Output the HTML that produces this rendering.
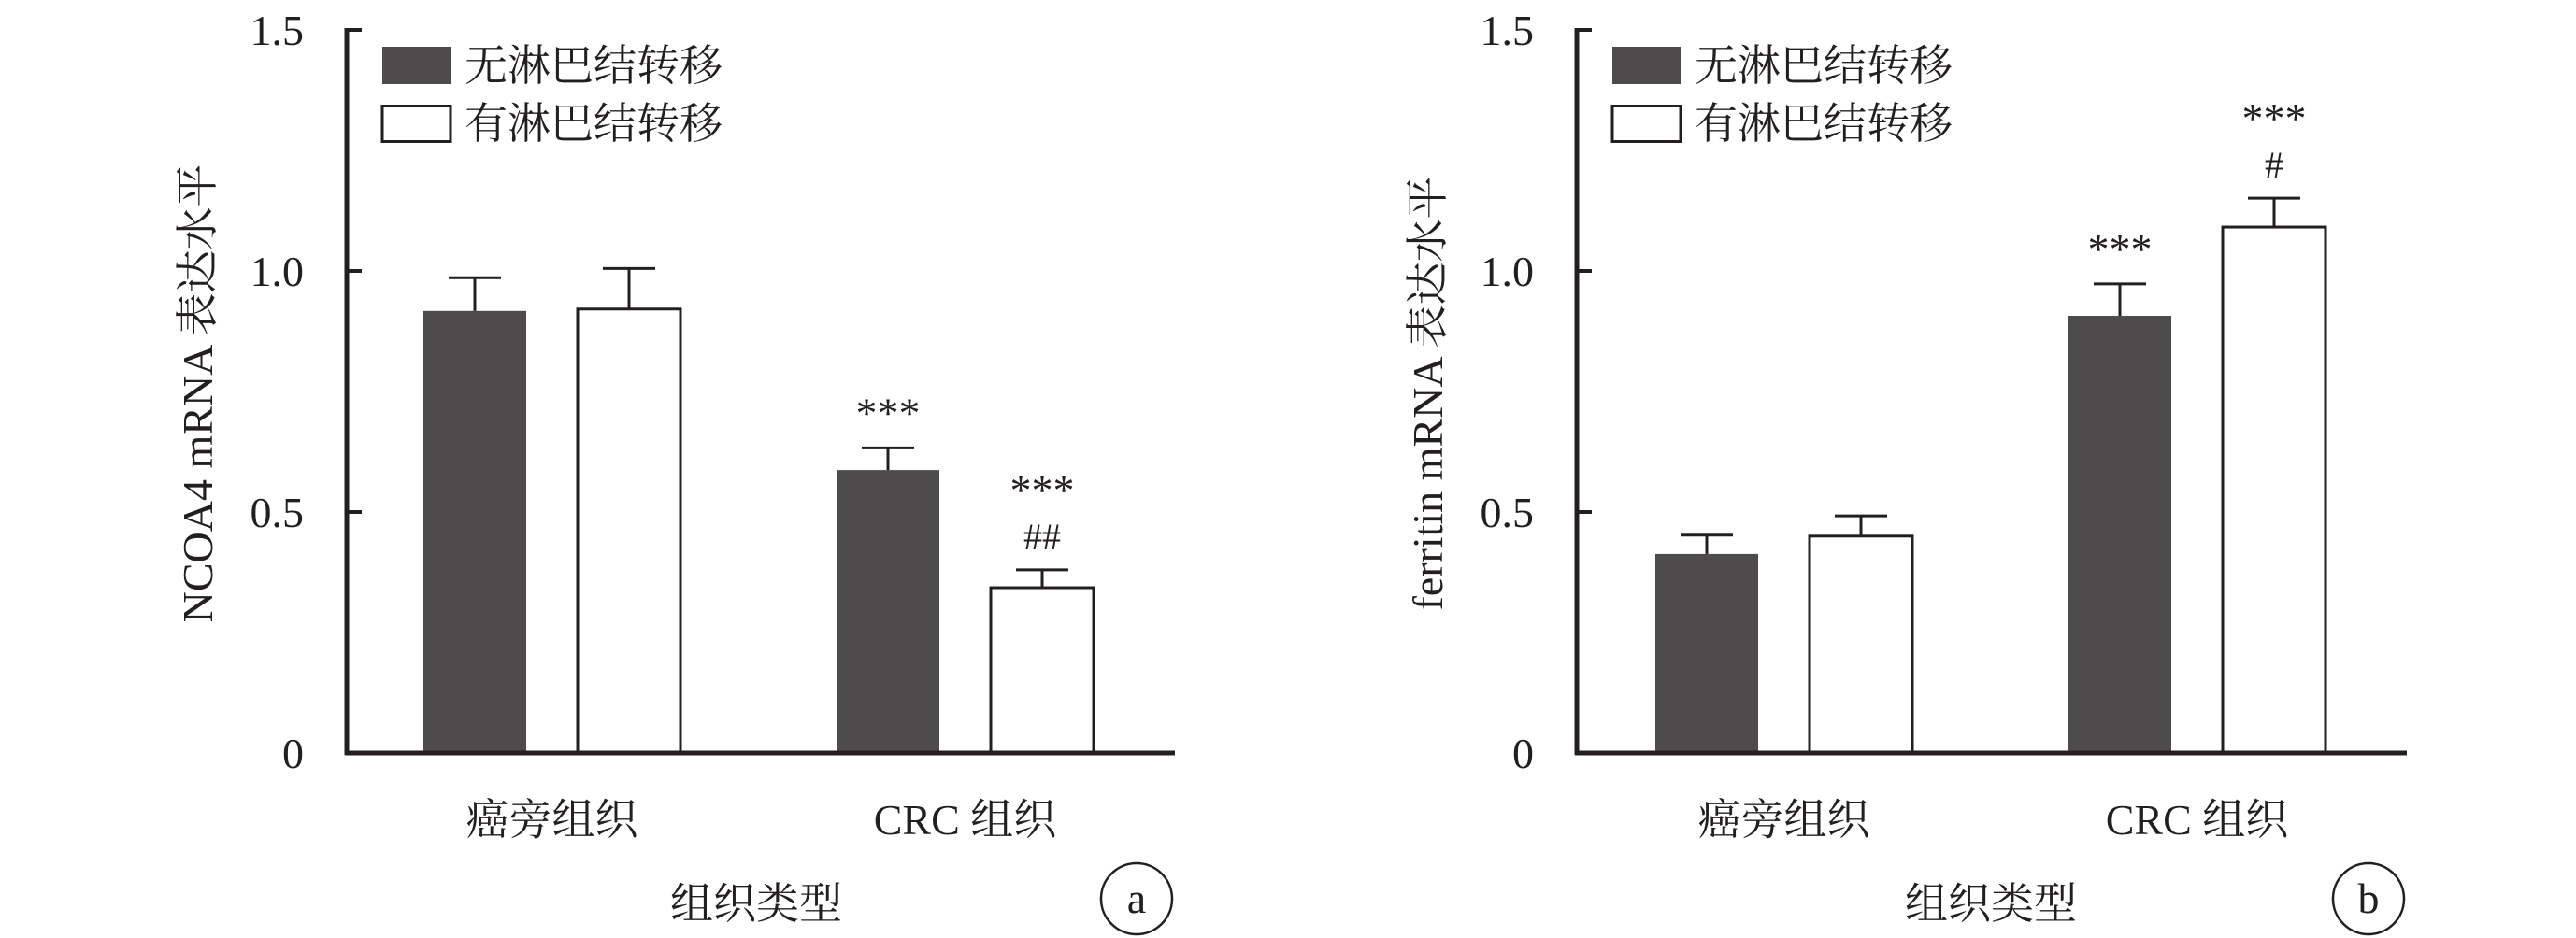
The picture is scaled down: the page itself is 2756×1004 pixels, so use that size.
<!DOCTYPE html>
<html><head><meta charset="utf-8">
<style>
html,body{margin:0;padding:0;background:#fff;}
svg{display:block;}
text{font-family:"Liberation Serif","Noto Serif CJK SC",serif;fill:#231f20;}
</style></head>
<body>
<svg id="chart" width="2756" height="1004" viewBox="0 0 2756 1004" xmlns="http://www.w3.org/2000/svg"></svg>
<script>
const categories = ["癌旁组织", "CRC 组织"];
const seriesNames = ["无淋巴结转移", "有淋巴结转移"];
const ncoaNoMeta = [0.917, 0.587];
const ncoaNoMetaErr = [0.069, 0.046];
const ncoaMeta = [0.921, 0.343];
const ncoaMetaErr = [0.084, 0.037];
const ferNoMeta = [0.413, 0.907];
const ferNoMetaErr = [0.039, 0.066];
const ferMeta = [0.450, 1.091];
const ferMetaErr = [0.042, 0.060];
const yTicks = [0, 0.5, 1.0, 1.5];
const yTickLabels = ["0", "0.5", "1.0", "1.5"];
const ncoaNoMetaMarks = ["", "***"];
const ncoaMetaMarks = [["",""], ["***","##"]];
const ferNoMetaMarks = ["", "***"];
const ferMetaMarks = [["",""], ["***","#"]];

const svg = document.getElementById('chart');
const NS = 'http://www.w3.org/2000/svg';
function mk(tag, attrs, parent, txt){
  const e = document.createElementNS(NS, tag);
  for (const k in attrs) e.setAttribute(k, attrs[k]);
  if (txt !== undefined) e.textContent = txt;
  (parent || svg).appendChild(e);
  return e;
}

function panel(opt){
  const g = mk('g', {});
  
  
  const ox = opt.axisX, y0 = 806, unit = 516, xEnd = opt.xEnd;
  const y = v => y0 - v * unit;
  const groupStarts = [opt.start, opt.start + 442];
  const bw = 110, gap = 55;
  const bx = (gi, si) => groupStarts[gi] + si * (bw + gap);

  // bars
  const vals = [opt.s1, opt.s2], errs = [opt.e1, opt.e2];
  for (let si = 0; si < 2; si++) {
    for (let gi = 0; gi < categories.length; gi++) {
      const v = vals[si][gi], e = errs[si][gi];
      const x = bx(gi, si), cx = x + bw / 2;
      const eb = mk('line', {x1: cx, x2: cx, y1: y(v), y2: y(v + e), stroke: '#231f20', 'stroke-width': 3}, g);
      
      
      const cap = mk('line', {x1: cx - 28, x2: cx + 28, y1: y(v + e), y2: y(v + e), stroke: '#231f20', 'stroke-width': 3}, g);
      
      
      const r = mk('rect', {x: x, y: y(v), width: bw, height: y0 - y(v),
        fill: si === 0 ? '#4d4b4c' : '#fff', stroke: si === 0 ? 'none' : '#231f20', 'stroke-width': si === 0 ? 0 : 3}, g);
      
      
      // marks
      let marks = si === 0 ? [opt.m1[gi]] : opt.m2[gi];
      marks = marks.filter(m => m);
      const top = y(v + e);
      marks.slice().reverse().forEach((m, k) => {
        const isHash = m[0] === '#';
        const t = mk('text', {x: cx, y: top - 22 - k * 48, 'text-anchor': 'middle', 'font-size': isHash ? 40 : 46}, g, m);
        
        
      });
    }
  }

  // axes
  const ya = mk('line', {x1: ox, x2: ox, y1: y(1.5) - 2, y2: y0 + 2, stroke: '#231f20', 'stroke-width': 5}, g);
  
  
  const xa = mk('line', {x1: ox - 2, x2: xEnd, y1: y0, y2: y0, stroke: '#231f20', 'stroke-width': 5}, g);
  
  
  yTicks.forEach((t, i) => {
    const tk = mk('line', {x1: ox, x2: ox + 16, y1: y(t), y2: y(t), stroke: '#231f20', 'stroke-width': 4}, g);
    
    
    const tl = mk('text', {x: ox - 46, y: y(t) + 16, 'text-anchor': 'end', 'font-size': 46}, g, yTickLabels[i]);
    
    
  });
  categories.forEach((c, gi) => {
    const cx = bx(gi, 0) + (2 * bw + gap) / 2;
    const t = mk('text', {x: cx, y: 893, 'text-anchor': 'middle', 'font-size': 46}, g, c);
    
    
  });
  const xt = mk('text', {x: opt.xTitleX, y: 983, 'text-anchor': 'middle', 'font-size': 46}, g, '组织类型');
  
  
  const yt = mk('text', {x: 0, y: 0, 'text-anchor': 'middle', 'font-size': 46,
    transform: 'translate(' + (opt.yTitleX + 16) + ',421) rotate(-90)'}, g, opt.yTitle);
  
  
  // legend
  seriesNames.forEach((s, i) => {
    const ly = 50 + i * 62;
    const sw = mk('rect', {x: ox + 38, y: ly + (i ? 1.5 : 0), width: 73, height: i ? 38 : 40,
      fill: i === 0 ? '#4d4b4c' : '#fff', stroke: i === 0 ? 'none' : '#231f20', 'stroke-width': 3}, g);
    
    
    const lt = mk('text', {x: ox + 126, y: ly + 36, 'font-size': 46}, g, s);
    
    
  });
  // panel label
  const c = mk('circle', {cx: opt.labelX, cy: 962, r: 38, fill: 'none', stroke: '#231f20', 'stroke-width': 2.5}, g);
  
  
  const pl = mk('text', {x: opt.labelX, y: 977, 'text-anchor': 'middle', 'font-size': 46}, g, opt.label);
  
  
}

panel({name: 'panel-a-ncoa4', axisX: 371, xEnd: 1257, start: 453,
  s1: ncoaNoMeta, e1: ncoaNoMetaErr, s2: ncoaMeta, e2: ncoaMetaErr,
  m1: ncoaNoMetaMarks, m2: ncoaMetaMarks, yTitle: 'NCOA4 mRNA 表达水平',
  yTitleX: 211, xTitleX: 809, labelX: 1216, label: 'a'});
panel({name: 'panel-b-ferritin', axisX: 1687, xEnd: 2575, start: 1771,
  s1: ferNoMeta, e1: ferNoMetaErr, s2: ferMeta, e2: ferMetaErr,
  m1: ferNoMetaMarks, m2: ferMetaMarks, yTitle: 'ferritin mRNA 表达水平',
  yTitleX: 1527, xTitleX: 2130, labelX: 2534, label: 'b'});
</script>
</body></html>
